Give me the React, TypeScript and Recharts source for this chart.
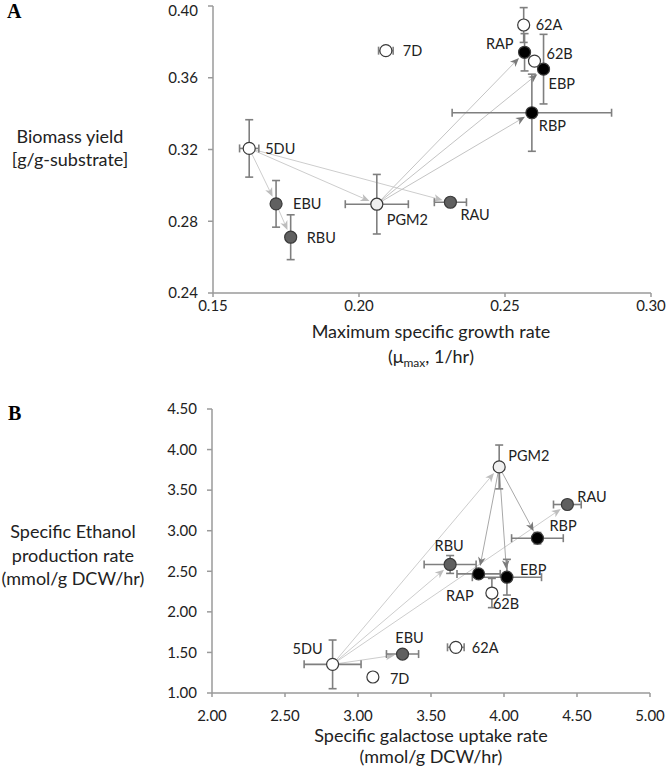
import React from 'react';
import { ScatterChart, Scatter, XAxis, YAxis, ErrorBar, ReferenceLine } from 'recharts';

const FONT = 'Lato, "Open Sans", "DejaVu Sans", sans-serif';

// ---------- Shared ----------
const strains = ['5DU', 'EBU', 'RBU', 'PGM2', 'RAU', '7D', '62A', 'RAP', '62B', 'EBP', 'RBP'];
const strainGroup: Record<string, string> = {
  '5DU': 'open', '7D': 'open', '62A': 'open', '62B': 'open',
  PGM2: 'light',
  EBU: 'dark', RBU: 'dark', RAU: 'dark',
  RAP: 'black', EBP: 'black', RBP: 'black',
};

// ---------- Panel A ----------
const growthRateA = [0.1624, 0.1716, 0.1766, 0.2061, 0.2313, 0.2092, 0.2564, 0.2567, 0.2601, 0.2632, 0.2592];
const biomassYieldA = [0.3206, 0.2897, 0.2711, 0.2895, 0.2906, 0.3751, 0.3894, 0.3742, 0.3693, 0.3648, 0.3405];
const growthRateErrA = [0.0033, 0, 0, 0.0108, 0.0055, 0.0025, 0, 0, 0, 0, 0.0273];
const biomassYieldErrA = [0.016, 0.013, 0.0125, 0.0166, 0, 0, 0.0097, 0.0104, 0, 0.0194, 0.0215];
const xTicksA = [0.15, 0.2, 0.25, 0.3];
const yTicksA = [0.24, 0.28, 0.32, 0.36, 0.4];
const arrowsLightA: [string, string][] = [['5DU', 'EBU'], ['5DU', 'PGM2'], ['5DU', 'RAU'], ['EBU', 'RBU']];
const arrowsDarkA: [string, string][] = [['PGM2', 'RAP'], ['PGM2', 'EBP'], ['PGM2', 'RBP']];

// ---------- Panel B ----------
const galactoseUptakeB = [2.826, 3.305, 3.631, 3.967, 4.434, 3.102, 3.67, 3.826, 3.917, 4.02, 4.229];
const ethanolRateB = [1.353, 1.48, 2.584, 3.786, 3.323, 1.197, 1.563, 2.468, 2.232, 2.427, 2.908];
const galactoseErrB = [0.195, 0.11, 0.178, 0, 0.095, 0, 0.057, 0.148, 0, 0.237, 0.177];
const ethanolErrB = [0.3, 0, 0.11, 0.27, 0, 0, 0, 0, 0.18, 0.22, 0.07];
const xTicksB = [2, 2.5, 3, 3.5, 4, 4.5, 5];
const yTicksB = [1, 1.5, 2, 2.5, 3, 3.5, 4, 4.5];
const arrowsLightB: [string, string][] = [['5DU', 'PGM2'], ['5DU', 'RBU'], ['5DU', 'EBU'], ['5DU', 'RAU']];
const arrowsDarkB: [string, string][] = [['PGM2', 'RAP'], ['PGM2', 'EBP'], ['PGM2', 'RBP']];

// ---------- Styles ----------
const fillOf: Record<string, string> = { open: '#ffffff', light: '#f0f0f0', dark: '#606060', black: '#000000' };
type LP = [number, number, 'start' | 'middle' | 'end'];
const labelPosA: Record<string, LP> = {
  '5DU': [16, 0, 'start'], EBU: [17, 0, 'start'], RBU: [16, 0, 'start'], PGM2: [10, 15, 'start'],
  RAU: [10, 12, 'start'], '7D': [17, 0, 'start'], '62A': [12, -1, 'start'], RAP: [-11, -9, 'end'],
  '62B': [12, -8, 'start'], EBP: [5, 14, 'start'], RBP: [7, 13, 'start'],
};
const labelPosB: Record<string, LP> = {
  '5DU': [-10, -16, 'end'], EBU: [7, -17, 'middle'], '7D': [17, 1, 'start'], '62A': [16, 0, 'start'],
  RBU: [-1, -19, 'middle'], RAP: [-5, 22, 'end'], EBP: [13, -8, 'start'], '62B': [1, 10, 'start'],
  RBP: [12, -13, 'start'], RAU: [10, -8, 'start'], PGM2: [9, -11, 'start'],
};

const AXIS = '#9a9a9a';
const ERR = '#7f7f7f';
const TEXT = '#222';

const build = (xs: number[], ys: number[], xe: number[], ye: number[]) =>
  strains.map((name, i) => ({ name, x: xs[i], y: ys[i], xErr: xe[i], yErr: ye[i] }));

const dataA = build(growthRateA, biomassYieldA, growthRateErrA, biomassYieldErrA);
const dataB = build(galactoseUptakeB, ethanolRateB, galactoseErrB, ethanolErrB);

const markerShape = (props: any) => {
  const { cx, cy, payload } = props;
  if (cx == null || cy == null) return <g />;
  return <circle cx={cx} cy={cy} r={6} fill={fillOf[strainGroup[payload.name]]} stroke="#3a3a3a" strokeWidth={1.2} />;
};

const labelShape = (pos: Record<string, LP>) => (props: any) => {
  const { cx, cy, payload } = props;
  if (cx == null || cy == null) return <g />;
  const [dx, dy, anchor] = pos[payload.name];
  return (
    <text x={cx + dx} y={cy + dy} dominantBaseline="central" textAnchor={anchor}
      fontSize={14.5} fontFamily={FONT} fill={TEXT}>{payload.name}</text>
  );
};

const arrowShape = (lineColor: string, headColor: string) => (p: any) => {
  const { x1, y1, x2, y2 } = p;
  if ([x1, y1, x2, y2].some((v) => v == null || isNaN(v))) return <g />;
  const dx = x2 - x1, dy = y2 - y1;
  const len = Math.hypot(dx, dy) || 1;
  const ux = dx / len, uy = dy / len;
  const sx = x1 + ux * 5, sy = y1 + uy * 5;
  const tx = x2 - ux * 8, ty = y2 - uy * 8;
  const hl = 9, hw = 3.8;
  const bx = tx - ux * hl, by = ty - uy * hl;
  const pts = `${tx},${ty} ${bx - uy * hw},${by + ux * hw} ${bx + ux * 2.5},${by + uy * 2.5} ${bx + uy * hw},${by - ux * hw}`;
  return (
    <g>
      <line x1={sx} y1={sy} x2={bx + ux * 3} y2={by + uy * 3} stroke={lineColor} strokeWidth={1} />
      <polygon points={pts} fill={headColor} />
    </g>
  );
};

const renderArrows = (data: any[], list: [string, string][], lineColor: string, headColor: string, key: string) =>
  list.map(([from, to]) => {
    const a = data.find((d) => d.name === from);
    const b = data.find((d) => d.name === to);
    return (
      <ReferenceLine key={`${key}-${from}-${to}`} segment={[{ x: a.x, y: a.y }, { x: b.x, y: b.y }]}
        ifOverflow="visible" shape={arrowShape(lineColor, headColor)} />
    );
  });

const tickStyle = { fill: TEXT, fontSize: 15, fontFamily: FONT };

const YTick = (props: any) => {
  const { x, y, payload } = props;
  const yy = Math.max(y, 10.5);
  return (
    <text x={x} y={yy} dy="0.355em" textAnchor="end" fill={TEXT} fontSize={15} fontFamily={FONT}>
      {Number(payload.value).toFixed(2)}
    </text>
  );
};

interface PanelProps {
  data: any[];
  xDomain: [number, number];
  yDomain: [number, number];
  xTicks: number[];
  yTicks: number[];
  light: [string, string][];
  dark: [string, string][];
  labelPos: Record<string, LP>;
  height: number;
  margin: any;
  yWidth: number;
  xTickMargin: number;
  darkLine: string;
}

const Panel = (p: PanelProps) => (
  <ScatterChart width={666} height={p.height} margin={p.margin}>
    <XAxis type="number" dataKey="x" domain={p.xDomain} ticks={p.xTicks} allowDataOverflow
      tickFormatter={(v: number) => v.toFixed(2)} tick={tickStyle} height={60}
      axisLine={{ stroke: AXIS, strokeWidth: 1.5 }} tickLine={{ stroke: AXIS, strokeWidth: 1.5 }}
      tickSize={4} tickMargin={p.xTickMargin} interval={0} />
    <YAxis type="number" dataKey="y" domain={p.yDomain} ticks={p.yTicks} allowDataOverflow
      tick={<YTick />} width={p.yWidth}
      axisLine={{ stroke: AXIS, strokeWidth: 1.5 }} tickLine={{ stroke: AXIS, strokeWidth: 1.5 }}
      tickSize={5} tickMargin={10} interval={0} />
    {renderArrows(p.data, p.light, '#cdcdcd', '#bdbdbd', 'l')}
    {renderArrows(p.data, p.dark, p.darkLine, '#7a7a7a', 'd')}
    <Scatter data={p.data} shape={markerShape} isAnimationActive={false}>
      <ErrorBar dataKey="xErr" direction="x" width={4} stroke={ERR} strokeWidth={1.6} />
      <ErrorBar dataKey="yErr" direction="y" width={4} stroke={ERR} strokeWidth={1.6} />
    </Scatter>
    <Scatter data={p.data} shape={labelShape(p.labelPos)} isAnimationActive={false} />
  </ScatterChart>
);

export default function App() {
  return (
    <div style={{ position: 'absolute', left: 0, top: 0, width: 666, height: 772, background: '#fff', overflow: 'hidden' }}>
      <div style={{ position: 'absolute', left: 0, top: 0 }}>
        <Panel data={dataA} xDomain={[0.15, 0.3]} yDomain={[0.24, 0.4]} xTicks={xTicksA} yTicks={yTicksA}
          light={arrowsLightA} dark={arrowsDarkA} labelPos={labelPosA} height={372}
          margin={{ top: 6, right: 15, bottom: 19, left: 0 }} yWidth={213} xTickMargin={3}
          darkLine="#c4c4c4" />
      </div>
      <div style={{ position: 'absolute', left: 0, top: 372 }}>
        <Panel data={dataB} xDomain={[2, 5]} yDomain={[1, 4.5]} xTicks={xTicksB} yTicks={yTicksB}
          light={arrowsLightB} dark={arrowsDarkB} labelPos={labelPosB} height={400}
          margin={{ top: 37, right: 16, bottom: 19, left: 0 }} yWidth={212} xTickMargin={13}
          darkLine="#a8a8a8" />
      </div>
      <svg width={666} height={772} style={{ position: 'absolute', left: 0, top: 0, pointerEvents: 'none' }}>
        <text x={7} y={18} fontFamily='"Liberation Serif", "Times New Roman", serif' fontWeight="bold" fontSize={20} fill="#000">A</text>
        <text x={8} y={420} fontFamily='"Liberation Serif", "Times New Roman", serif' fontWeight="bold" fontSize={20} fill="#000">B</text>
        <g fontFamily={FONT} fontSize={18} fill={TEXT} textAnchor="middle">
          <text x={70} y={143}>Biomass yield</text>
          <text x={70} y={166}>[g/g-substrate]</text>
          <text x={431} y={338}>Maximum specific growth rate</text>
          <text x={431} y={363}>
            <tspan>(μ</tspan>
            <tspan fontSize={12} dy={4}>max</tspan>
            <tspan dy={-4}>, 1/hr)</tspan>
          </text>
          <text x={73} y={538}>Specific Ethanol</text>
          <text x={73} y={561.5}>production rate</text>
          <text x={73} y={585}>(mmol/g DCW/hr)</text>
          <text x={431} y={741.5}>Specific galactose uptake rate</text>
          <text x={431} y={763}>(mmol/g DCW/hr)</text>
        </g>
      </svg>
    </div>
  );
}
